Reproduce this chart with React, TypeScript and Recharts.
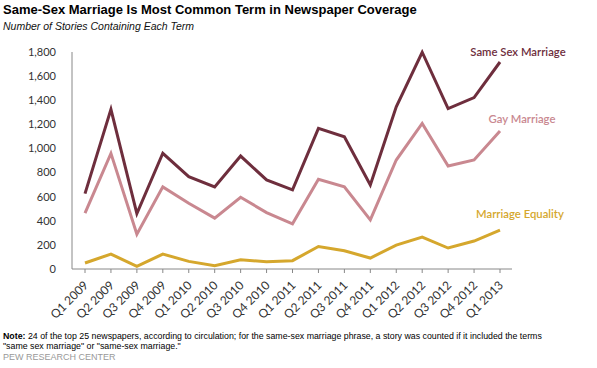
import React from "react";
import { LineChart, Line, XAxis, YAxis, LabelList } from "recharts";

const quarters = [
  "Q1 2009", "Q2 2009", "Q3 2009", "Q4 2009",
  "Q1 2010", "Q2 2010", "Q3 2010", "Q4 2010",
  "Q1 2011", "Q2 2011", "Q3 2011", "Q4 2011",
  "Q1 2012", "Q2 2012", "Q3 2012", "Q4 2012",
  "Q1 2013",
];
const sameSexMarriage = [625, 1325, 460, 960, 766, 681, 937, 739, 656, 1166, 1097, 697, 1345, 1798, 1331, 1422, 1717];
const gayMarriage = [463, 959, 289, 681, 546, 422, 595, 468, 375, 744, 681, 408, 904, 1207, 854, 904, 1144];
const marriageEquality = [50, 124, 22, 124, 63, 27, 77, 60, 69, 187, 151, 91, 198, 265, 174, 232, 322];
const yTicks = [0, 200, 400, 600, 800, 1000, 1200, 1400, 1600, 1800];

const data = quarters.map((q, i) => ({
  q,
  ssm: sameSexMarriage[i],
  gay: gayMarriage[i],
  eq: marriageEquality[i],
}));

const series = [
  { key: "ssm", name: "Same Sex Marriage", color: "#6E2E3D", dx: 18, dy: -11 },
  { key: "gay", name: "Gay Marriage", color: "#C98890", dx: 22, dy: -13 },
  { key: "eq", name: "Marriage Equality", color: "#D5A72D", dx: 20, dy: -17 },
];

const tickFont = "Lato, 'Open Sans', sans-serif";

const XTick = (props: any) => {
  const { x, y, payload } = props;
  const ax = x + 4;
  const ay = y + 11;
  return (
    <text
      x={ax}
      y={ay}
      textAnchor="end"
      fontFamily={tickFont}
      fontSize={12}
      fill="#333"
      transform={`rotate(-45, ${ax}, ${ay})`}
    >
      {payload.value}
    </text>
  );
};

const makeLabel = (s: any) => (props: any) => {
  const { x, y, index } = props;
  if (index !== quarters.length - 1) return null;
  return (
    <text
      x={x + s.dx}
      y={y + s.dy}
      textAnchor="middle"
      dominantBaseline="central"
      fontFamily={tickFont}
      fontSize={11.3}
      fontWeight={600}
      fill={s.color}
    >
      {s.name}
    </text>
  );
};

export default function App() {
  return (
    <div
      style={{
        position: "absolute",
        left: 0,
        top: 0,
        width: 597,
        height: 368,
        background: "#fff",
        fontFamily: "'Liberation Sans', Arial, sans-serif",
      }}
    >
      <div style={{ position: "absolute", left: 3, top: 2, fontSize: 13, fontWeight: "bold", color: "#000", whiteSpace: "nowrap" }}>
        Same-Sex Marriage Is Most Common Term in Newspaper Coverage
      </div>
      <div style={{ position: "absolute", left: 3, top: 20, fontSize: 10.5, fontStyle: "italic", color: "#111", whiteSpace: "nowrap" }}>
        Number of Stories Containing Each Term
      </div>
      <LineChart
        width={597}
        height={368}
        data={data}
        margin={{ top: 52, right: 85, left: 12, bottom: 39 }}
      >
        <YAxis
          width={60}
          domain={[0, 1800]}
          ticks={yTicks}
          interval={0}
          axisLine={{ stroke: "#888" }}
          tickLine={false}
          tickMargin={10}
          tick={{ fontFamily: tickFont, fontSize: 11, fill: "#333" }}
          tickFormatter={(v: number) => v.toLocaleString("en-US")}
        />
        <XAxis
          dataKey="q"
          height={60}
          interval={0}
          padding={{ left: 13, right: 12 }}
          axisLine={{ stroke: "#888" }}
          tickLine={{ stroke: "#888" }}
          tickSize={4}
          tick={<XTick />}
        />
        {series.map((s) => (
          <Line
            key={s.key}
            dataKey={s.key}
            type="linear"
            stroke={s.color}
            strokeWidth={3}
            dot={false}
            activeDot={false}
            isAnimationActive={false}
          >
            <LabelList dataKey={s.key} content={makeLabel(s)} />
          </Line>
        ))}
      </LineChart>
      <div style={{ position: "absolute", left: 3, top: 331, fontSize: 8.8, color: "#000", lineHeight: "10px", width: 590 }}>
        <b>Note:</b> 24 of the top 25 newspapers, according to circulation; for the same-sex marriage phrase, a story was counted if it included the terms
        <br />
        "same sex marriage" or "same-sex marriage."
      </div>
      <div style={{ position: "absolute", left: 3, top: 352, fontSize: 9, color: "#999", whiteSpace: "nowrap" }}>
        PEW RESEARCH CENTER
      </div>
    </div>
  );
}
